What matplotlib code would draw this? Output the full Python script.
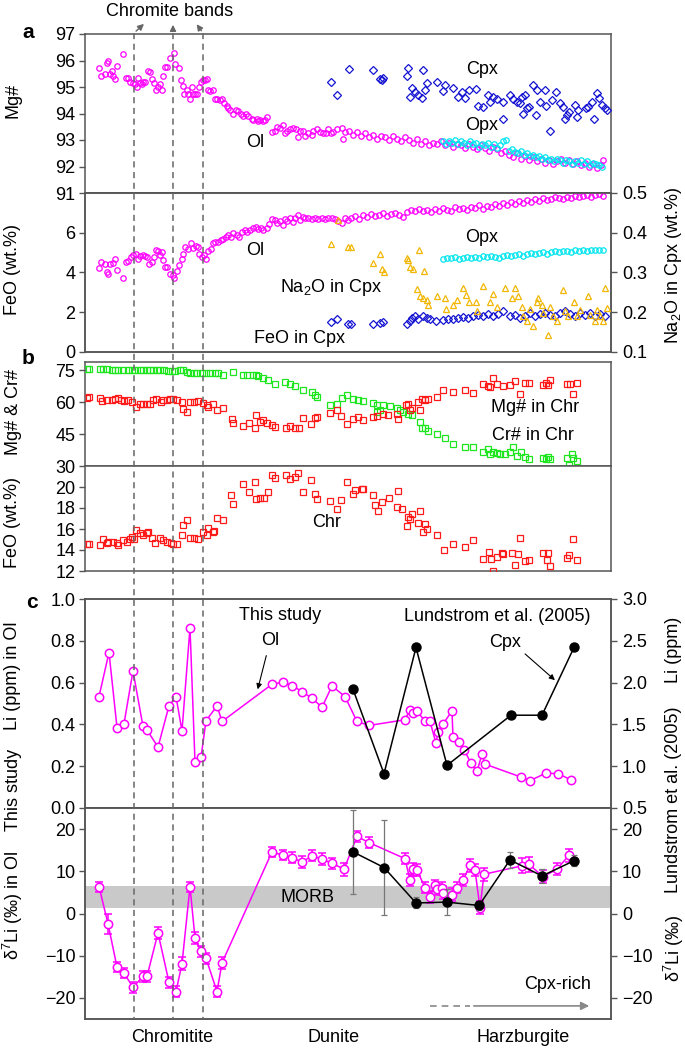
import numpy as np
import matplotlib
matplotlib.use("Agg")
import matplotlib.pyplot as plt
from matplotlib.lines import Line2D
from matplotlib.patches import FancyArrowPatch
from matplotlib.transforms import blended_transform_factory

plt.rcParams["font.family"] = ["Liberation Sans", "DejaVu Sans"]
plt.rcParams["font.size"] = 13
plt.rcParams["mathtext.fontset"] = "custom"
plt.rcParams["mathtext.rm"] = "Liberation Sans"
plt.rcParams["mathtext.it"] = "Liberation Sans:italic"

# ---- data: x = relative position along the section (0-526) ----
OL_MG = [(14,95.7),(16,95.4),(20,95.5),(22,95.9),(23,96.0),(25,95.5),(27,95.6),(28,95.4),(30,95.3),(32,95.8),
         (38,96.25),(41,95.35),(43,95.35),(45,95.2),(48,95.15),(50,95.1),(52,95.0),(53,95.35),(55,95.15),(57,95.1),
         (58,95.2),(60,95.2),(63,95.6),(65,95.55),(67,95.3),(69,95.15),(71,94.9),(73,95.0),(75,95.1),(77,94.9),
         (78,95.4),(80,95.75),(82,95.75),(85,96.1),(89,96.3),(90,95.85),(94,95.7),(96,95.25),(98,95.05),(99,94.75),
         (102,94.9),(103,94.75),(105,94.55),(107,95.0),(108,94.75),(110,94.75),(112,94.75),(114,95.0),(116,95.2),
         (118,95.25),(120,95.25),(122,95.3),(123,94.9),(125,94.85),(128,94.9),(130,94.55),(132,94.55),(135,94.5),
         (137,94.55),(139,94.4),(142,94.3),(143,94.2),(145,94.15),(148,94.0),(151,94.15),(153,94.1),(156,94.0),
         (158,93.9),(161,94.0),(163,93.9),(167,93.8),(168,93.75),(172,93.8),(173,93.7),(175,93.75),(178,93.7),
         (180,93.75),(182,93.85),(187,93.3),(190,93.35),(192,93.5),(195,93.45),(198,93.55),(200,93.25),(202,93.35),
         (205,93.4),(208,93.45),(211,93.4),(213,93.1),(215,93.35),(218,93.35),(220,93.15),(223,93.25),(227,93.2),
         (228,93.35),(232,93.4),(235,93.3),(238,93.25),(241,93.25),(243,93.4),(246,93.25),(248,93.3),(252,93.4),
         (257,93.45),(258,93.05),(260,93.3),(264,93.35),(268,93.2),(272,93.3),(276,93.15),(280,93.25),(284,93.1),
         (288,93.2),(292,93.05),(296,93.15),(300,93.1),(304,93.0),(308,93.15),(312,93.05),(316,92.95),(320,93.1),
         (324,93.0),(328,92.9),(332,93.05),(336,92.85),(340,92.95),(344,92.8),(348,92.9),(352,92.85),(356,92.95),
         (360,92.8),(364,92.9),(368,92.75),(372,92.85),(376,92.8),(380,92.7),(384,92.85),(388,92.75),(392,92.65),
         (396,92.8),(400,92.7),(404,92.6),(408,92.75),(412,92.65),(416,92.5),(420,92.6),(424,92.45),(428,92.35),
         (432,92.5),(436,92.3),(440,92.4),(444,92.25),(448,92.35),(452,92.2),(456,92.3),(460,92.15),(464,92.25),
         (468,92.1),(472,92.2),(476,92.3),(480,92.15),(484,92.25),(488,92.1),(492,92.2),(496,92.05),(500,92.15),
         (504,92.0),(508,92.1),(512,91.95),(516,92.05),(518,92.25)]
OPX_MG = [(358,92.95),(361,92.85),(364,92.95),(367,92.9),(370,93.0),(373,92.85),(376,92.95),(379,92.9),(382,92.8),
          (385,92.95),(388,92.85),(391,92.9),(394,92.75),(397,92.85),(400,92.8),(403,92.9),(406,92.75),(409,92.85),
          (412,92.7),(415,92.8),(418,92.95),(421,93.0),(424,92.6),(427,92.65),(430,92.55),(433,92.5),(436,92.6),
          (439,92.45),(442,92.5),(445,92.4),(448,92.45),(451,92.35),(454,92.4),(457,92.3),(460,92.35),(463,92.25),
          (466,92.3),(469,92.2),(472,92.3),(475,92.25),(478,92.15),(481,92.25),(484,92.2),(487,92.1),(490,92.2),
          (493,92.15),(496,92.25),(499,92.1),(502,92.2),(505,92.05),(508,92.15),(511,92.1),(514,92.05),(517,92.0)]
CPX_MG = [(246,95.2),(252,94.7),(264,95.67),(288,95.65),(295,95.3),(297,95.25),(298,95.33),(322,95.4),(323,95.73),
          (325,94.63),(327,94.95),(330,94.8),(333,94.7),(337,94.6),(338,95.65),(340,94.9),(342,95.14),(352,95.2),
          (358,94.86),(360,95.07),(368,94.95),(373,94.63),(377,94.82),(380,94.57),(384,94.9),(391,94.92),(393,94.28),
          (398,94.25),(403,94.7),(405,94.45),(408,94.63),(412,94.53),(418,94.45),(418,93.8),(425,94.7),(428,94.53),
          (432,94.45),(435,94.38),(437,94.63),(438,94.0),(440,94.7),(442,94.2),(444,94.23),(448,95.07),(451,93.94),
          (452,94.88),(455,94.45),(460,94.9),(461,94.28),(465,93.34),(467,94.5),(471,94.82),(475,94.38),(478,94.25),
          (480,93.81),(482,93.94),(484,94.06),(490,94.32),(492,93.85),(493,94.13),(501,94.19),(503,94.25),(507,94.44),
          (509,93.81),(512,94.76),(514,94.57),(517,94.32),(520,94.19),(522,94.13)]

OL_FEO = [(14,4.22),(16,4.53),(20,4.44),(22,4.02),(23,3.93),(25,4.44),(28,4.49),(30,4.7),(32,4.15),(38,3.71),
          (41,4.53),(43,4.56),(46,4.78),(48,4.9),(51,4.95),(53,4.7),(55,4.83),(58,4.86),(60,4.83),(62,4.78),
          (64,4.44),(67,4.53),(69,4.78),(71,5.12),(73,5.07),(75,4.9),(77,5.03),(78,4.61),(80,4.27),(82,4.27),
          (85,3.93),(88,3.85),(89,3.71),(92,4.1),(94,4.36),(97,4.7),(98,4.95),(100,5.29),(103,5.2),(106,5.46),
          (108,5.24),(111,5.34),(113,5.29),(114,4.95),(117,4.78),(119,4.86),(121,4.7),(123,5.07),(126,5.2),
          (128,5.46),(130,5.51),(133,5.54),(136,5.63),(138,5.71),(141,5.8),(143,5.88),(146,5.8),(148,5.97),
          (152,5.88),(154,5.8),(157,6.05),(160,6.14),(162,6.05),(165,6.14),(168,6.22),(171,6.31),(173,6.19),
          (176,6.22),(178,6.14),(182,6.25),(184,6.42),(187,6.69),(190,6.64),(192,6.47),(195,6.59),(198,6.39),
          (200,6.69),(202,6.59),(205,6.73),(208,6.56),(210,6.73),(213,6.9),(215,6.64),(218,6.81),(220,6.73),
          (223,6.76),(227,6.69),(230,6.73),(233,6.68),(237,6.73),(240,6.69),(243,6.76),(247,6.73),(250,6.69),
          (253,6.59),(257,6.47),(260,6.76),(263,6.64),(266,6.75),(270,6.85),(274,6.7),(278,6.9),(282,6.8),
          (286,6.95),(290,6.85),(294,6.9),(298,7.0),(302,6.85),(306,6.95),(310,7.0),(314,6.9),(318,6.8),
          (322,7.05),(326,7.15),(330,7.1),(334,7.2),(338,7.1),(342,7.15),(346,7.05),(350,7.2),(354,7.1),
          (358,7.25),(362,7.15),(366,7.1),(370,7.3),(374,7.2),(378,7.25),(382,7.15),(386,7.3),(390,7.25),
          (394,7.4),(398,7.2),(402,7.35),(406,7.3),(410,7.45),(414,7.35),(418,7.5),(422,7.4),(426,7.55),
          (430,7.45),(434,7.6),(438,7.5),(442,7.65),(446,7.55),(450,7.7),(454,7.6),(458,7.75),(462,7.65),
          (466,7.7),(470,7.8),(474,7.75),(478,7.7),(482,7.8),(486,7.75),(490,7.85),(494,7.8),(498,7.85),
          (502,7.9),(506,7.8),(510,7.9),(514,7.95),(518,7.85)]
OPX_FEO = [(358,4.7),(362,4.75),(366,4.72),(370,4.78),(374,4.7),(378,4.75),(382,4.8),(386,4.72),(390,4.78),
           (394,4.75),(398,4.82),(402,4.78),(406,4.85),(410,4.8),(414,4.75),(418,4.85),(422,4.9),(426,4.82),
           (430,4.88),(434,4.92),(438,4.85),(442,4.95),(446,5.0),(450,4.92),(454,4.98),(458,5.02),(462,4.95),
           (466,5.05),(470,5.1),(474,5.02),(478,5.08),(482,5.1),(486,5.05),(490,5.12),(494,5.08),(498,5.15),
           (502,5.1),(506,5.12),(510,5.15),(514,5.12),(518,5.15)]
CPX_FEO = [(246,1.51),(252,1.68),(263,1.39),(266,1.39),(288,1.39),(295,1.47),(298,1.51),(322,1.39),(325,1.56),
           (327,1.73),(330,1.81),(333,1.64),(338,1.81),(342,1.73),(345,1.64),(351,1.56),(358,1.61),(363,1.64),
           (368,1.68),(373,1.73),(378,1.78),(383,1.73),(388,1.81),(393,1.85),(398,1.81),(403,1.9),(408,1.81),
           (413,1.9),(418,2.07),(425,1.81),(430,1.85),(435,1.73),(440,1.81),(445,1.98),(450,1.81),(455,1.9),
           (460,1.98),(465,1.85),(470,1.81),(475,1.95),(480,2.07),(485,1.9),(490,1.81),(495,1.98),(500,1.85),
           (505,1.95),(510,1.81),(515,1.9),(520,1.81)]
CPX_NA2O = [(246,0.372),(253,0.431),(263,0.364),(266,0.364),(288,0.324),(295,0.347),(297,0.309),(299,0.3),
            (322,0.336),(323,0.332),(325,0.314),(328,0.309),(334,0.356),(339,0.303),(332,0.258),(335,0.24),
            (338,0.236),(342,0.232),(343,0.219),(352,0.24),(360,0.236),(361,0.208),(368,0.219),(372,0.232),
            (378,0.261),(381,0.244),(384,0.225),(391,0.227),(392,0.202),(398,0.265),(405,0.227),(408,0.247),
            (412,0.213),(420,0.261),(427,0.236),(430,0.261),(433,0.24),(437,0.213),(438,0.19),(442,0.177),
            (445,0.208),(448,0.165),(452,0.225),(453,0.236),(457,0.219),(458,0.198),(463,0.142),(465,0.213),
            (468,0.19),(472,0.177),(478,0.257),(480,0.202),(483,0.19),(489,0.227),(492,0.19),(495,0.206),
            (503,0.24),(505,0.194),(510,0.177),(512,0.206),(515,0.19),(518,0.177),(520,0.261),(522,0.21)]

CHR_CR = [(2,75.5),(4,75.8),(15,75.5),(18,75.5),(22,75.5),(27,75.3),(30,75.3),(33,75.3),(38,75.3),(43,75.3),
          (47,75.3),(50,75.3),(55,75.3),(58,75.3),(62,75.3),(65,75.3),(68,75.3),(72,75.3),(75,75.0),(79,75.0),
          (83,74.7),(87,74.7),(90,74.7),(95,75.3),(98,75.0),(102,74.2),(105,73.8),(109,73.8),(112,73.8),
          (117,73.8),(121,73.8),(125,73.8),(130,73.8),(133,73.8),(138,72.7),(148,74.2),(158,72.7),(162,72.7),
          (168,72.7),(171,73.1),(173,72.2),(178,71.6),(183,70.3),(190,68.75),(200,69.5),(205,68.75),(210,67.5),
          (218,65.6),(227,64.8),(230,63.3),(232,62.5),(245,58.9),(252,59.1),(257,62.2),(262,63.3),(268,61.7),
          (273,60.9),(278,60.6),(288,59.7),(292,58.6),(292,55.5),(295,56.3),(298,58.6),(305,58.1),(312,57.5),
          (315,56.6),(318,55.5),(323,54.7),(327,53.9),(335,50.8),(337,48.1),(340,47.7),(343,46.6),(352,45.3),
          (360,43.0),(368,40.3),(380,39.1),(388,39.1),(398,36.7),(403,37.8),(405,35.6),(408,36.7),(412,35.9),
          (415,35.6),(420,35.6),(425,36.7),(428,39.1),(432,34.7),(436,36.7),(440,34.4),(444,33.1),(458,33.6),
          (461,33.1),(463,34.4),(465,33.1),(482,33.6),(484,30.5),(487,35.6),(488,33.6),(492,32.5)]
CHR_MG = [(2,62.2),(4,62.5),(15,62.2),(17,60.6),(22,61.25),(27,61.25),(30,61.7),(33,62.2),(36,61.25),(39,60.6),
          (43,60.9),(47,60.2),(51,57.8),(55,59.1),(58,59.1),(62,59.1),(65,59.4),(68,60.9),(71,61.7),(76,60.2),
          (78,61.25),(82,61.25),(85,61.7),(88,61.7),(92,61.25),(97,60.2),(98,57.0),(102,55.5),(105,60.2),
          (109,60.2),(113,60.6),(118,59.7),(122,58.6),(123,57.8),(128,59.1),(132,56.3),(138,57.5),(147,52.3),
          (148,50.3),(158,48.75),(164,50.3),(170,47.7),(171,53.9),(175,50.8),(178,51.6),(182,50.3),(187,49.2),
          (190,48.4),(201,48.1),(205,48.75),(210,48.1),(214,47.7),(218,52.8),(226,49.7),(230,52.8),(232,53.1),
          (245,55.2),(252,56.3),(256,53.4),(262,49.7),(268,52.3),(273,53.1),(278,51.6),(288,53.1),(292,53.4),
          (298,54.7),(303,53.9),(312,54.4),(313,52.3),(321,58.6),(323,59.1),(325,56.6),(327,57.5),(333,60.2),
          (335,56.6),(337,61.7),(340,60.9),(343,61.7),(352,62.5),(358,65.9),(368,64.8),(380,65.9),(388,64.4),
          (398,68.75),(403,67.5),(405,67.2),(408,71.6),(412,68.75),(418,67.5),(425,68.0),(430,70.0),(435,63.75),
          (440,69.1),(444,69.1),(458,68.0),(461,69.1),(463,68.0),(465,70.6),(482,68.75),(485,68.4),(488,64.1),
          (492,69.1)]
CHR_FEO = [(2,14.6),(4,14.6),(15,14.44),(18,15.08),(22,14.67),(23,14.76),(28,14.76),(32,14.67),(33,14.44),
           (38,14.92),(42,14.76),(45,15.08),(47,15.24),(49,15.08),(51,15.87),(55,15.62),(58,15.4),(62,15.62),
           (63,15.71),(67,15.17),(70,14.67),(75,15.17),(78,14.98),(82,14.76),(86,14.67),(88,14.54),(92,14.6),
           (97,15.4),(98,16.35),(102,16.83),(105,15.17),(109,15.17),(113,15.08),(118,15.71),(122,15.4),
           (123,16.13),(128,15.71),(129,15.81),(132,17.08),(138,16.89),(146,19.2),(148,18.35),(158,20.25),
           (164,19.52),(170,20.48),(171,18.89),(175,18.98),(179,18.98),(183,19.52),(187,21.11),(190,20.89),
           (201,21.11),(205,20.79),(210,21.0),(213,21.33),(218,19.52),(226,20.63),(230,19.3),(232,18.89),
           (245,18.67),(252,17.94),(256,18.79),(262,20.48),(268,19.3),(270,19.75),(277,19.84),(278,19.84),
           (288,19.2),(290,18.25),(293,17.71),(297,18.57),(304,18.98),(312,18.1),(313,19.62),(317,17.94),
           (322,16.25),(323,17.14),(325,16.98),(327,17.46),(333,16.57),(335,17.71),(338,15.71),(340,16.51),
           (342,16.03),(352,15.4),(359,13.97),(368,14.6),(380,14.29),(388,15.0),(398,13.17),(404,13.81),
           (406,13.17),(408,12.0),(412,13.33),(417,13.71),(418,13.65),(427,13.71),(430,12.54),(433,13.59),
           (435,15.17),(440,12.95),(444,13.08),(458,13.71),(462,13.08),(463,13.71),(465,12.44),(482,13.27),
           (484,13.49),(488,15.08),(492,13.02)]

LI_OL = [(14,0.533),(24,0.744),(32,0.385),(39,0.403),(48,0.656),(58,0.39),(62,0.374),(73,0.291),(84,0.489),
         (91,0.533),(97,0.369),(105,0.863),(110,0.22),(116,0.242),(121,0.417),(132,0.489),(137,0.414),
         (187,0.592),(198,0.602),(207,0.586),(217,0.557),(227,0.525),(237,0.482),(247,0.584),(260,0.533),
         (272,0.414),(284,0.395),(320,0.422),(325,0.47),(328,0.454),(332,0.462),(340,0.417),(345,0.414),
         (351,0.31),(353,0.366),(358,0.401),(367,0.465),(368,0.338),(374,0.318),(379,0.279),(386,0.215),
         (392,0.175),(397,0.258),(400,0.21),(436,0.148),(445,0.131),(461,0.167),(473,0.164),(486,0.135)]
LI_CPX_LUND = [(268,1.92),(299,0.91),(331,2.42),(362,1.01),(426,1.61),(457,1.61),(489,2.42)]

D7LI_OL = [(14,6.35,1.2),(23,-2.4,2.4),(32,-12.7,1.2),(39,-14.1,1.2),(48,-17.5,1.3),(58,-14.9,1.3),
           (62,-14.9,1.3),(73,-4.6,1.4),(84,-16.3,1.3),(91,-18.5,1.3),(97,-11.9,1.5),(105,6.35,1.2),
           (110,-5.8,1.5),(116,-9.0,1.3),(121,-10.6,1.3),(132,-18.5,1.4),(137,-11.7,1.5),(187,14.6,1.1),
           (198,13.8,1.2),(207,13.25,1.3),(217,12.2,1.4),(227,13.65,1.3),(237,12.9,1.4),(247,11.9,1.3),
           (259,10.5,1.5),(272,18.25,1.3),(284,16.8,1.3),(320,13.0,1.3),(325,7.9,1.4),(328,10.5,1.5),
           (332,10.3,1.5),(340,6.1,1.3),(345,4.0,1.4),(350,6.7,1.3),(352,5.7,1.4),(357,6.1,1.3),(358,4.9,1.5),
           (367,4.5,1.5),(372,6.1,1.3),(378,7.9,1.4),(385,11.4,1.5),(390,10.3,1.5),(395,1.35,1.5),(399,9.3,1.5),
           (437,11.3,1.8),(444,11.7,1.8),(458,8.7,1.5),(472,10.5,1.4),(484,13.8,1.5)]
D7LI_CPX_LUND = [(268,14.6,10.0),(299,10.9,11.2),(331,2.5,1.3),(362,2.7,3.0),(394,1.9,1.0),(425,12.7,1.9),
                 (457,8.9,1.6),(489,12.5,1.3)]
MORB_RANGE = (1.2, 6.4)
BAND_POS = [49, 88, 118]

MAGENTA = "#ff00ff"
CYAN = "#00e5ef"
BLUE = "#1414d2"
GOLD = "#f2b705"
GREEN = "#1ee61e"
RED = "#ff1a1a"
FRAME = "#555555"

W, H = 685, 1052
fig = plt.figure(figsize=(W / 100, H / 100), dpi=100)


def fx(px):
    return px / W


def fy(py):
    return 1 - py / H


def panel(top, bottom):
    ax = fig.add_axes([fx(85), fy(bottom), 526 / W, (bottom - top) / H])
    ax.set_xlim(0, 526)
    ax.set_xticks([])
    for s in ax.spines.values():
        s.set_color(FRAME)
        s.set_linewidth(1.1)
    ax.tick_params(axis="y", direction="out", length=4, width=1, color=FRAME, labelsize=13, pad=3)
    return ax


def right_axis(ax, lo, hi, ticks, fmt=None):
    r = ax.twinx()
    r.set_ylim(lo, hi)
    r.set_yticks(ticks)
    if fmt:
        r.set_yticklabels([fmt.format(t) for t in ticks])
    r.tick_params(axis="y", direction="out", length=4, width=1, color=FRAME, labelsize=13, pad=4)
    for s in r.spines.values():
        s.set_color(FRAME)
        s.set_linewidth(1.1)
    return r


def cols(pairs):
    return np.array(pairs, dtype=float).T


def pts(ax, pairs, marker, color, ms, z=3):
    x, y = cols(pairs)
    ax.plot(x, y, marker, ls="none", mfc="none", mec=color, ms=ms, mew=0.9, zorder=z)


# ---- panel a ----
a1 = panel(34, 193)
a1.set_ylim(91, 97)
a1.set_yticks(range(91, 98))
pts(a1, OL_MG, "o", MAGENTA, 3.9)
pts(a1, OPX_MG, "o", CYAN, 3.9, z=4)
pts(a1, CPX_MG, "D", BLUE, 3.8)
a1.text(170, 92.9, "Ol", ha="center", va="center")
a1.text(397, 95.66, "Cpx", ha="center", va="center")
a1.text(397, 93.53, "Opx", ha="center", va="center")

a2 = panel(193, 352)
a2.set_ylim(0, 8)
a2.set_yticks([0, 2, 4, 6])
pts(a2, OL_FEO, "o", MAGENTA, 3.9)
pts(a2, OPX_FEO, "o", CYAN, 3.9)
pts(a2, CPX_FEO, "D", BLUE, 3.8)
a2r = right_axis(a2, 0.1, 0.5, [0.1, 0.2, 0.3, 0.4, 0.5])
pts(a2r, CPX_NA2O, "^", GOLD, 4.4)
a2.text(170, 5.1, "Ol", ha="center", va="center")
a2.text(397, 5.76, "Opx", ha="center", va="center")
a2.text(246, 3.23, "Na$_2$O in Cpx", ha="center", va="center")
a2.text(215, 0.7, "FeO in Cpx", ha="center", va="center")

# ---- panel b ----
b1 = panel(362, 466)
b1.set_ylim(30, 79)
b1.set_yticks([30, 45, 60, 75])
pts(b1, CHR_CR, "s", GREEN, 4.2)
pts(b1, CHR_MG, "s", RED, 4.2)
b1.text(450, 57.7, "Mg# in Chr", ha="center", va="center")
b1.text(448, 44.5, "Cr# in Chr", ha="center", va="center")

b2 = panel(466, 571)
b2.set_ylim(12, 22)
b2.set_yticks([12, 14, 16, 18, 20])
pts(b2, CHR_FEO, "s", RED, 4.2)
b2.text(242, 16.6, "Chr", ha="center", va="center")

# ---- panel c ----
c1 = panel(599, 808)
c1.set_ylim(0, 1.0)
li_ticks = [0.0, 0.2, 0.4, 0.6, 0.8, 1.0]
c1.set_yticks(li_ticks)
c1.set_yticklabels([f"{v:.1f}" for v in li_ticks])
x, y = cols(LI_OL)
c1.plot(x, y, "-o", color=MAGENTA, lw=1.1, mfc="white", mec=MAGENTA, ms=6, mew=1.1, zorder=3)
c1r = right_axis(c1, 0.5, 3.0, [0.5, 1.0, 1.5, 2.0, 2.5, 3.0], "{:.1f}")
x, y = cols(LI_CPX_LUND)
c1r.plot(x, y, "-o", color="black", lw=1.1, ms=6.5, zorder=4)
c1.text(195, 0.923, "This study", ha="center", va="center")
c1.text(185, 0.80, "Ol", ha="center", va="center")
c1.annotate("", xy=(172, 0.555), xytext=(182, 0.742),
            arrowprops=dict(arrowstyle="-|>", color="black", lw=0.8, mutation_scale=8))
c1.text(412, 0.914, "Lundstrom et al. (2005)", ha="center", va="center")
c1.text(420, 0.794, "Cpx", ha="center", va="center")
c1.annotate("", xy=(472, 0.603), xytext=(438, 0.746),
            arrowprops=dict(arrowstyle="-|>", color="black", lw=0.8, mutation_scale=8))

c2 = panel(808, 1019)
c2.set_ylim(-25, 25)
c2.set_yticks([-20, -10, 0, 10, 20])
c2.axhspan(*MORB_RANGE, color="#c9c9c9", lw=0, zorder=0)
x, y, e = cols(D7LI_OL)
c2.errorbar(x, y, yerr=e, fmt="-o", color=MAGENTA, lw=1.1, ecolor=MAGENTA, elinewidth=1.1,
            capsize=3, capthick=1.1, mfc="white", mec=MAGENTA, ms=6, mew=1.1, zorder=3)
x, y, e = cols(D7LI_CPX_LUND)
c2.errorbar(x, y, yerr=e, fmt="-o", color="black", lw=1.1, ecolor="#777777", elinewidth=0.9,
            capsize=2.5, capthick=0.9, ms=6.5, zorder=4)
c2r = right_axis(c2, -25, 25, [-20, -10, 0, 10, 20])
c2.text(222, 3.8, "MORB", ha="center", va="center")
c2.text(473, -16.9, "Cpx-rich", ha="center", va="center")
c2.plot([345, 385], [-21.9, -21.9], color="#888888", lw=1.2, ls=(0, (4, 3)))
c2.annotate("", xy=(507, -21.9), xytext=(386, -21.9),
            arrowprops=dict(arrowstyle="-|>", color="#888888", lw=1.2, mutation_scale=12))

# ---- chromite band markers across all panels ----
blend = blended_transform_factory(c2.transData, fig.transFigure)
for xb in BAND_POS:
    fig.add_artist(Line2D([xb, xb], [fy(33), fy(1019)], transform=blend, color="#666666",
                          lw=1.1, ls=(0, (4, 3)), zorder=5))
fig.text(fx(170), fy(12), "Chromite bands", ha="center", va="center", fontsize=13)
for xb, xt in zip(BAND_POS, [146, 173, 195]):
    x0 = c2.transData.transform((xb, 0))[0] / fig.dpi / fig.get_figwidth()
    fig.add_artist(FancyArrowPatch((x0, fy(33)), (fx(xt), fy(22)), transform=fig.transFigure,
                                   arrowstyle="-|>", mutation_scale=9, color="#666666", lw=1))

# ---- labels ----
for txt, px, py in [("a", 28, 33), ("b", 28, 358), ("c", 32, 602)]:
    fig.text(fx(px), fy(py), txt, ha="center", va="center", fontsize=15, fontweight="bold")

for txt, py in [("Mg#", 100), ("FeO (wt.%)", 270), ("Mg# & Cr#", 412), ("FeO (wt.%)", 522),
                ("Li (ppm) in Ol", 676), ("This study", 790), ("δ$^7$Li (‰) in Ol", 905)]:
    fig.text(fx(13), fy(py), txt, rotation=90, ha="center", va="center", fontsize=13)
for txt, py in [("Na$_2$O in Cpx (wt.%)", 265), ("Li (ppm)", 650),
                ("Lundstrom et al. (2005)", 800), ("δ$^7$Li (‰)", 948)]:
    fig.text(fx(674), fy(py), txt, rotation=90, ha="center", va="center", fontsize=13)

for txt, px in [("Chromitite", 172), ("Dunite", 334), ("Harzburgite", 523)]:
    fig.text(fx(px), fy(1038), txt, ha="center", va="center", fontsize=13)

fig.savefig("out.png", dpi=100)
